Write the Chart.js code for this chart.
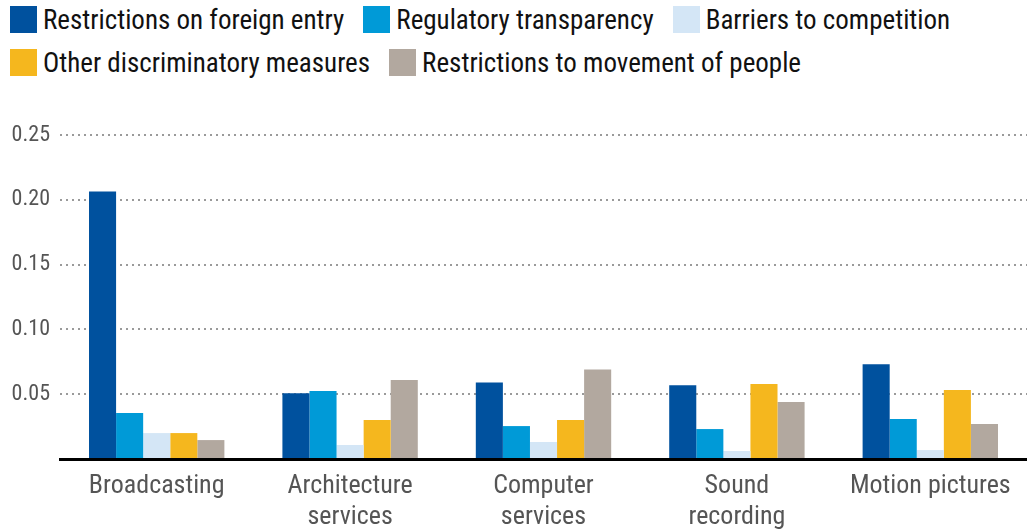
<!DOCTYPE html>
<html>
<head>
<meta charset="utf-8">
<script src="https://cdn.jsdelivr.net/npm/chart.js@4"></script>
<style>
  body { margin: 0; background: #fff; }
  #wrap { position: relative; width: 1027px; height: 530px; }
  #legend { position: absolute; left: 10px; top: 6px; width: 1010px; font-family: "Liberation Sans Narrow", "Roboto Condensed", sans-serif; font-size: 27px; color: #111; }
  .row { display: flex; height: 27px; margin-bottom: 16px; }
  .item { display: flex; align-items: center; margin-right: 19px; white-space: nowrap; }
  .box { width: 27px; height: 27px; margin-right: 6px; }
  canvas { position: absolute; left: 0; top: 0; }
</style>
</head>
<body>
<div id="wrap">
  <div id="legend"></div>
  <canvas id="myChart" width="1027" height="530"></canvas>
</div>
<script>
// Sectors on the x axis
const categories = [
  "Broadcasting",
  ["Architecture", "services"],
  ["Computer", "services"],
  ["Sound", "recording"],
  "Motion pictures",
];

// Index values per restriction type
const foreignEntry = [0.2065, 0.0508, 0.059, 0.057, 0.0732];
const regulatoryTransparency = [0.0354, 0.0524, 0.0254, 0.0231, 0.0308];
const barriersCompetition = [0.02, 0.0108, 0.0131, 0.0062, 0.0069];
const otherDiscriminatory = [0.02, 0.03, 0.03, 0.0578, 0.0532];
const movementOfPeople = [0.0146, 0.0609, 0.069, 0.0439, 0.027];

const seriesNames = [
  "Restrictions on foreign entry",
  "Regulatory transparency",
  "Barriers to competition",
  "Other discriminatory measures",
  "Restrictions to movement of people",
];
const seriesColors = ["#00519E", "#009AD7", "#D4E6F6", "#F5B71E", "#B2A89F"];
const seriesData = [
  foreignEntry,
  regulatoryTransparency,
  barriersCompetition,
  otherDiscriminatory,
  movementOfPeople,
];

// Legend rows (3 + 2 items)
const legendRows = [[0, 1, 2], [3, 4]];
const legendEl = document.getElementById("legend");
legendRows.forEach((row) => {
  const rowEl = document.createElement("div");
  rowEl.className = "row";
  row.forEach((i) => {
    const item = document.createElement("div");
    item.className = "item";
    item.innerHTML = `<span class="box" style="background:${seriesColors[i]}"></span>${seriesNames[i]}`;
    rowEl.appendChild(item);
  });
  legendEl.appendChild(rowEl);
});

const ctx = document.getElementById("myChart").getContext("2d");

const data = {
  labels: categories,
  datasets: seriesData.map((values, i) => ({
    label: seriesNames[i],
    data: values,
    backgroundColor: seriesColors[i],
    borderWidth: 0,
    categoryPercentage: 0.7,
    barPercentage: 1.0,
  })),
};

const config = {
  type: "bar",
  data: data,
  options: {
    responsive: false,
    animation: false,
    layout: { padding: { top: 135, right: 0, left: 0, bottom: 0 } },
    plugins: {
      legend: { display: false },
      tooltip: { enabled: false },
    },
    scales: {
      x: {
        grid: { display: false },
        border: { color: "#000", width: 3 },
        ticks: {
          color: "#555",
          font: { family: "Liberation Sans Narrow, Roboto Condensed, sans-serif", size: 26 },
          padding: 4,
          maxRotation: 0,
          autoSkip: false,
        },
        afterFit: (scale) => {
          scale.height = 71;
        },
      },
      y: {
        min: 0,
        max: 0.25,
        border: { display: false, dash: [2, 4] },
        grid: {
          color: (c) => (c.tick && c.tick.value === 0 ? "rgba(0,0,0,0)" : "#9a9a9a"),
          lineWidth: 2,
          drawTicks: false,
        },
        ticks: {
          stepSize: 0.05,
          color: "#555",
          padding: 10,
          font: { family: "Liberation Sans Narrow, Roboto Condensed, sans-serif", size: 22 },
          callback: (v) => (v === 0 ? "" : v.toFixed(2)),
        },
        afterFit: (scale) => {
          scale.width = 60;
        },
      },
    },
  },
};

new Chart(ctx, config);
</script>
</body>
</html>
